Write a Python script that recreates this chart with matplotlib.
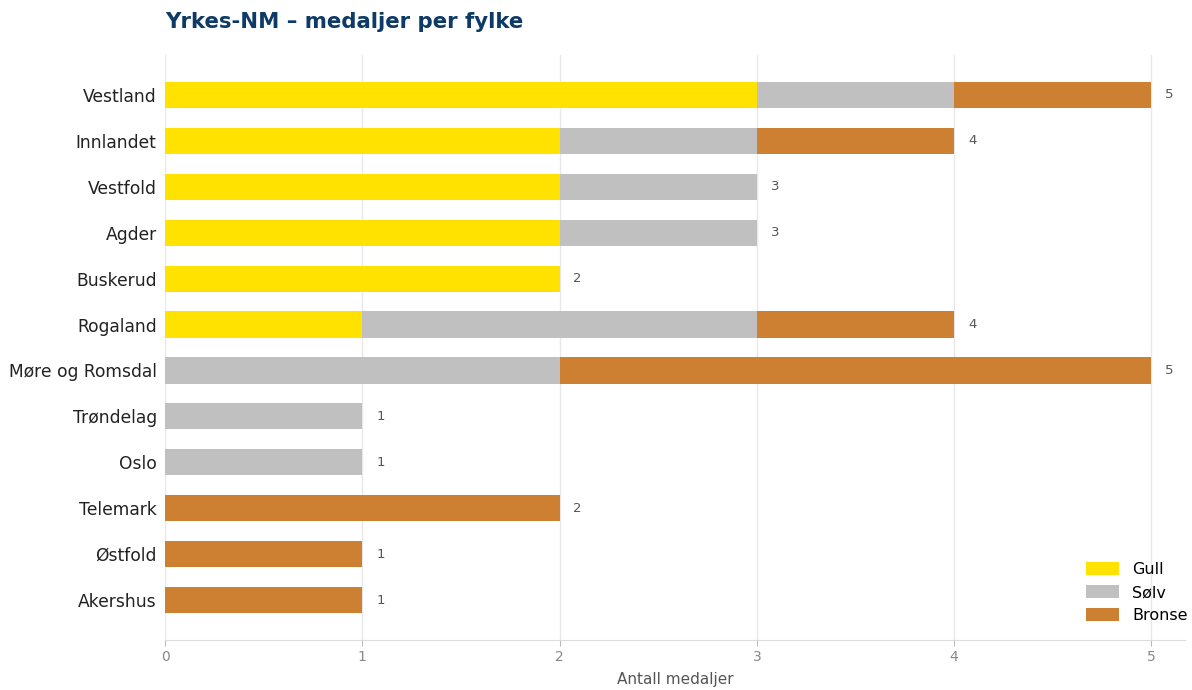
import numpy as np
import matplotlib
matplotlib.use("Agg")
import matplotlib.pyplot as plt

# data, top to bottom
fylker = ["Vestland", "Innlandet", "Vestfold", "Agder", "Buskerud", "Rogaland",
          "Møre og Romsdal", "Trøndelag", "Oslo", "Telemark", "Østfold", "Akershus"]
gull = [3, 2, 2, 2, 2, 1, 0, 0, 0, 0, 0, 0]
solv = [1, 1, 1, 1, 0, 2, 2, 1, 1, 0, 0, 0]
bronse = [1, 1, 0, 0, 0, 1, 3, 0, 0, 2, 1, 1]
x_ticks = [0, 1, 2, 3, 4, 5]

col_gull = "#FFE200"
col_solv = "#C0C0C0"
col_bronse = "#CD7F32"

gull = np.array(gull)
solv = np.array(solv)
bronse = np.array(bronse)
total = gull + solv + bronse
y = np.arange(len(fylker))

fig = plt.figure(figsize=(11.92, 6.9), dpi=100)
ax = fig.add_axes([165/1192, 50/690, 1020/1192, 585/690])

h = 0.57
ax.barh(y, gull, height=h, color=col_gull, label="Gull", zorder=3)
ax.barh(y, solv, left=gull, height=h, color=col_solv, label="Sølv", zorder=3)
ax.barh(y, bronse, left=gull + solv, height=h, color=col_bronse, label="Bronse", zorder=3)

for yi, t in zip(y, total):
    ax.text(t + 0.07, yi, str(t), va="center", ha="left", fontsize=9.5, color="#555555")

ax.set_xlim(0, 5.17)
ax.set_ylim(len(fylker) - 0.13, -0.87)
ax.set_yticks(y)
ax.set_yticklabels(fylker, fontsize=12.3, color="#222222")
ax.set_xticks(x_ticks)
ax.set_xticklabels([str(v) for v in x_ticks], fontsize=10, color="#888888")
ax.tick_params(axis="y", length=0, pad=6)
ax.tick_params(axis="x", length=4, color="#bbbbbb", pad=3)
ax.grid(axis="x", color="#e8e8e8", linewidth=1, zorder=0)
for s in ["top", "right", "left"]:
    ax.spines[s].set_visible(False)
ax.spines["bottom"].set_color("#dddddd")
ax.set_xlabel("Antall medaljer", fontsize=11, color="#555555", labelpad=6)

ax.legend(loc="lower right", frameon=False, fontsize=11.5, handlelength=2.1,
          handleheight=0.85, borderaxespad=0.2, labelspacing=0.52,
          handletextpad=0.8, bbox_to_anchor=(1.012, 0.012))

fig.text(165/1192, 1 - 22/690, "Yrkes-NM – medaljer per fylke", fontsize=15.3,
         fontweight="bold", color="#0d3a66", va="center", ha="left")

plt.savefig("out.png", dpi=100)
